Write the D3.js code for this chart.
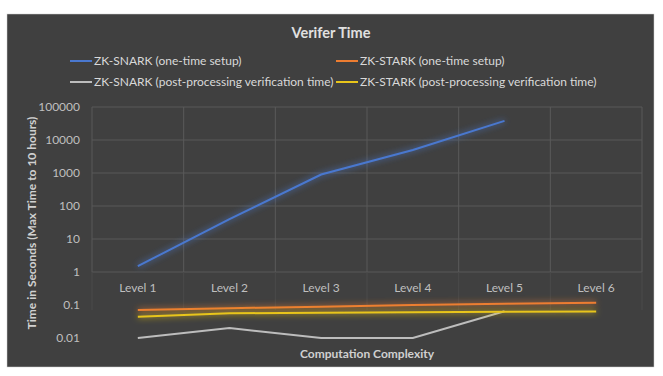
<!DOCTYPE html>
<html><head><meta charset="utf-8">
<script src="https://cdn.jsdelivr.net/npm/d3@7"></script>
<style>
html,body{margin:0;padding:0;background:#fff;}
svg{display:block;}
text{font-family:Lato,"Open Sans",sans-serif;}
</style></head>
<body><svg id="c" width="663" height="376"></svg>
<script>
const categories = ["Level 1","Level 2","Level 3","Level 4","Level 5","Level 6"];
const snarkSetup = [1.5, 40, 900, 5000, 38000, null];
const starkSetup = [0.07, 0.08, 0.089, 0.1, 0.11, 0.117];
const snarkVerify = [0.01, 0.02, 0.01, 0.01, 0.065, null];
const starkVerify = [0.044, 0.056, 0.058, 0.06, 0.062, 0.063];
const yTicks = [0.01, 0.1, 1, 10, 100, 1000, 10000, 100000];
const seriesNames = ["ZK-SNARK (one-time setup)","ZK-STARK (one-time setup)","ZK-SNARK (post-processing verification time)","ZK-STARK (post-processing verification time)"];
const seriesColors = ["#4a78cf","#ed7d31","#bdbdbd","#e8c51a"];
const seriesData = [snarkSetup, starkSetup, snarkVerify, starkVerify];

const svg = d3.select("#c");
const defs = svg.append("defs");
const f = defs.append("filter").attr("id","glow").attr("x","-20%").attr("y","-200%").attr("width","140%").attr("height","500%");
f.append("feGaussianBlur").attr("in","SourceGraphic").attr("stdDeviation",3).attr("result","b");
const fm = f.append("feMerge");
fm.append("feMergeNode").attr("in","b");
fm.append("feMergeNode").attr("in","SourceGraphic");

// panel
svg.append("rect").attr("x",7).attr("y",14).attr("width",647).attr("height",353)
  .attr("fill","#404040").attr("stroke","#d0d0d0").attr("stroke-width",0.5);

const pL = 92, pR = 642, pT = 107, pB = 338;
const x = d3.scaleBand().domain(categories).range([pL,pR]).padding(0);
const y = d3.scaleLog().domain([0.01,100000]).range([pB,pT]);
const cx = c => x(c) + x.bandwidth()/2;

// gridlines
const g = svg.append("g");
g.selectAll("line.h").data(yTicks.filter(t=>t>=1)).join("line")
  .attr("x1",pL).attr("x2",pR).attr("y1",d=>y(d)).attr("y2",d=>y(d))
  .attr("stroke","#595959").attr("stroke-width",1);
const vlines = [pL, ...categories.map(c=>x(c)+x.bandwidth())];
g.selectAll("line.v").data(vlines).join("line")
  .attr("x1",d=>d).attr("x2",d=>d).attr("y1",pT).attr("y2",y(1))
  .attr("stroke","#595959").attr("stroke-width",1);
g.selectAll("line.v2").data(vlines).join("line")
  .attr("x1",d=>d).attr("x2",d=>d).attr("y1",y(1)).attr("y2",y(0.07))
  .attr("stroke","#4a4a4a").attr("stroke-width",1);

// y axis labels
const yAxis = d3.axisLeft(y).tickValues(yTicks).tickFormat(d=>String(d)).tickSize(0).tickPadding(12);
const ya = svg.append("g").attr("transform",`translate(${pL},0)`).call(yAxis);
ya.select(".domain").remove();
ya.selectAll("text").attr("fill","#bfbfbf").style("font-size","12px").style("font-family","Lato,sans-serif");

// x axis labels (at value 1)
const xAxis = d3.axisBottom(x).tickSize(0).tickPadding(11);
const xa = svg.append("g").attr("transform",`translate(0,${y(1)})`).call(xAxis);
xa.select(".domain").remove();
xa.selectAll("text").attr("fill","#bfbfbf").style("font-size","12px").style("font-family","Lato,sans-serif");

// lines
const line = d3.line().defined(d=>d.v!=null).x(d=>cx(d.c)).y(d=>y(d.v));
seriesData.forEach((arr,i)=>{
  const pts = arr.map((v,j)=>({c:categories[j],v}));
  svg.append("path").datum(pts).attr("d",line).attr("fill","none")
    .attr("stroke",seriesColors[i]).attr("stroke-width",2)
    .attr("filter", i===2 ? null : "url(#glow)");
});

// title
svg.append("text").attr("x",331).attr("y",38).attr("text-anchor","middle")
  .attr("fill","#e0e0e0").style("font-size","14.5px").style("font-weight","bold").text("Verifer Time");

// legend
const legPos = [[70,61],[336,61],[70,82],[336,82]];
seriesNames.forEach((n,i)=>{
  const [lx,ly] = legPos[i];
  svg.append("line").attr("x1",lx).attr("x2",lx+22).attr("y1",ly).attr("y2",ly)
    .attr("stroke",seriesColors[i]).attr("stroke-width",2);
  svg.append("text").attr("x",lx+24).attr("y",ly+4).attr("fill","#d9d9d9")
    .style("font-size","12px").text(n);
});

// axis titles
svg.append("text").attr("transform","translate(36,223) rotate(-90)").attr("text-anchor","middle")
  .attr("fill","#d0d0d0").style("font-size","12px").style("font-weight","bold")
  .text("Time in Seconds (Max Time to 10 hours)");
svg.append("text").attr("x",367).attr("y",358).attr("text-anchor","middle")
  .attr("fill","#d0d0d0").style("font-size","12px").style("font-weight","bold")
  .text("Computation Complexity");
</script></body></html>
